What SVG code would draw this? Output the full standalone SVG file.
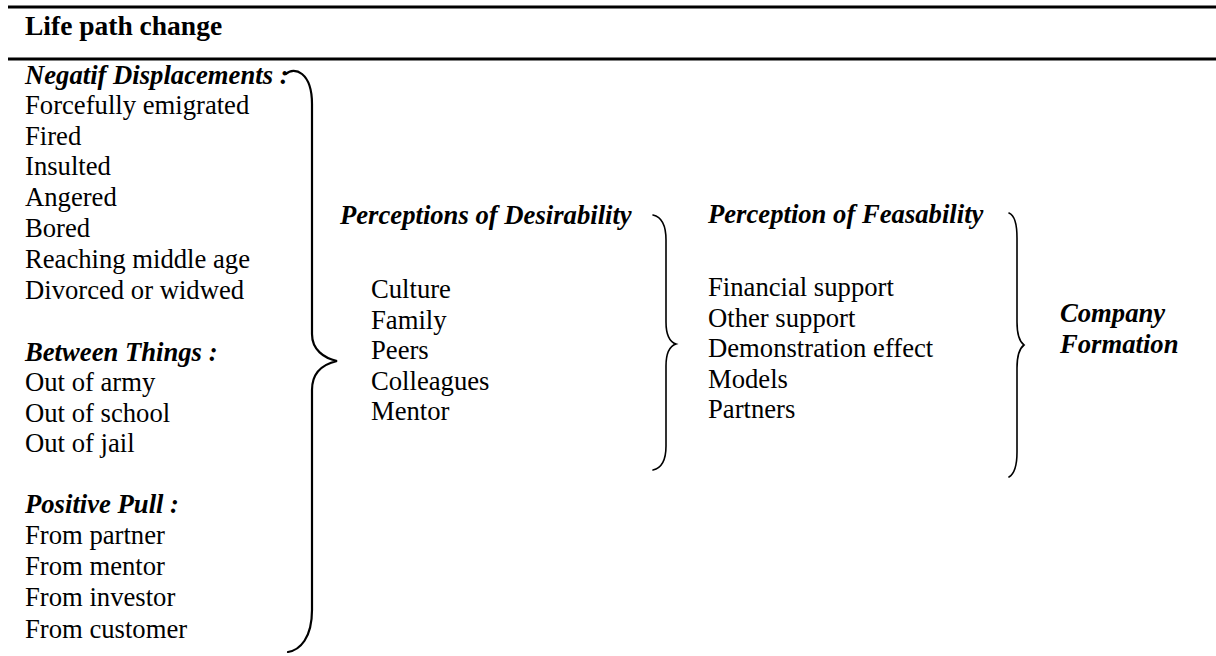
<svg xmlns="http://www.w3.org/2000/svg" width="1216" height="656" viewBox="0 0 1216 656">
<style>
text{font-family:"Liberation Serif","Times New Roman",serif;font-size:26.67px;fill:#000}
.h{font-weight:bold;font-style:italic}
.t{font-weight:bold;font-size:27.5px}
.rule{stroke:#000;stroke-width:3}
.brace{fill:none;stroke:#000;stroke-width:1.6;stroke-linecap:round}
.big{stroke-width:2.2}
</style>
<rect width="1216" height="656" fill="#fff"/>
<g id="header">
<line class="rule" x1="8" y1="7" x2="1216" y2="7"/>
<text class="t" x="25" y="34.5">Life path change</text>
<line class="rule" x1="8" y1="59" x2="1216" y2="59"/>
</g>
<g id="life-path-change">
<text class="h" x="25" y="83.5">Negatif Displacements :</text>
<text x="25" y="114">Forcefully emigrated</text>
<text x="25" y="144.5">Fired</text>
<text x="25" y="175">Insulted</text>
<text x="25" y="206">Angered</text>
<text x="25" y="237">Bored</text>
<text x="25" y="267.8">Reaching middle age</text>
<text x="25" y="298.5">Divorced or widwed</text>
<text class="h" x="25" y="361">Between Things :</text>
<text x="25" y="391">Out of army</text>
<text x="25" y="421.5">Out of school</text>
<text x="25" y="452">Out of jail</text>
<text class="h" x="25" y="513">Positive Pull :</text>
<text x="25" y="544">From partner</text>
<text x="25" y="574.5">From mentor</text>
<text x="25" y="605.5">From investor</text>
<text x="25" y="637.5">From customer</text>
</g>
<g id="desirability">
<text class="h" x="340" y="224">Perceptions of Desirability</text>
<text x="371" y="298">Culture</text>
<text x="371" y="328.5">Family</text>
<text x="371" y="359">Peers</text>
<text x="371" y="389.5">Colleagues</text>
<text x="371" y="420">Mentor</text>
</g>
<g id="feasability">
<text class="h" x="708" y="223">Perception of Feasability</text>
<text x="708" y="296">Financial support</text>
<text x="708" y="326.5">Other support</text>
<text x="708" y="357">Demonstration effect</text>
<text x="708" y="387.5">Models</text>
<text x="708" y="418">Partners</text>
</g>
<g id="company-formation">
<text class="h" x="1060" y="322">Company</text>
<text class="h" x="1060" y="353">Formation</text>
</g>
<g id="connectors">
<path class="brace big" d="M286,74 C294,66 312,72 312,104 L312,334 C312,350 324,358 337,361 C324,364 312,372 312,390 L312,610 C312,638 300,650 288,652"/>
<path class="brace" d="M653,215 C662,217 666,226 666,240 L666,322 C666,336 670,342 676,344 C670,346 666,352 666,366 L666,446 C666,460 662,468 653,470"/>
<path class="brace" d="M1009,213 C1014,215 1017,224 1017,238 L1017,322 C1017,336 1020,342 1024,345 C1020,348 1017,354 1017,368 L1017,452 C1017,466 1014,474 1009,477"/>
</g>
</svg>
